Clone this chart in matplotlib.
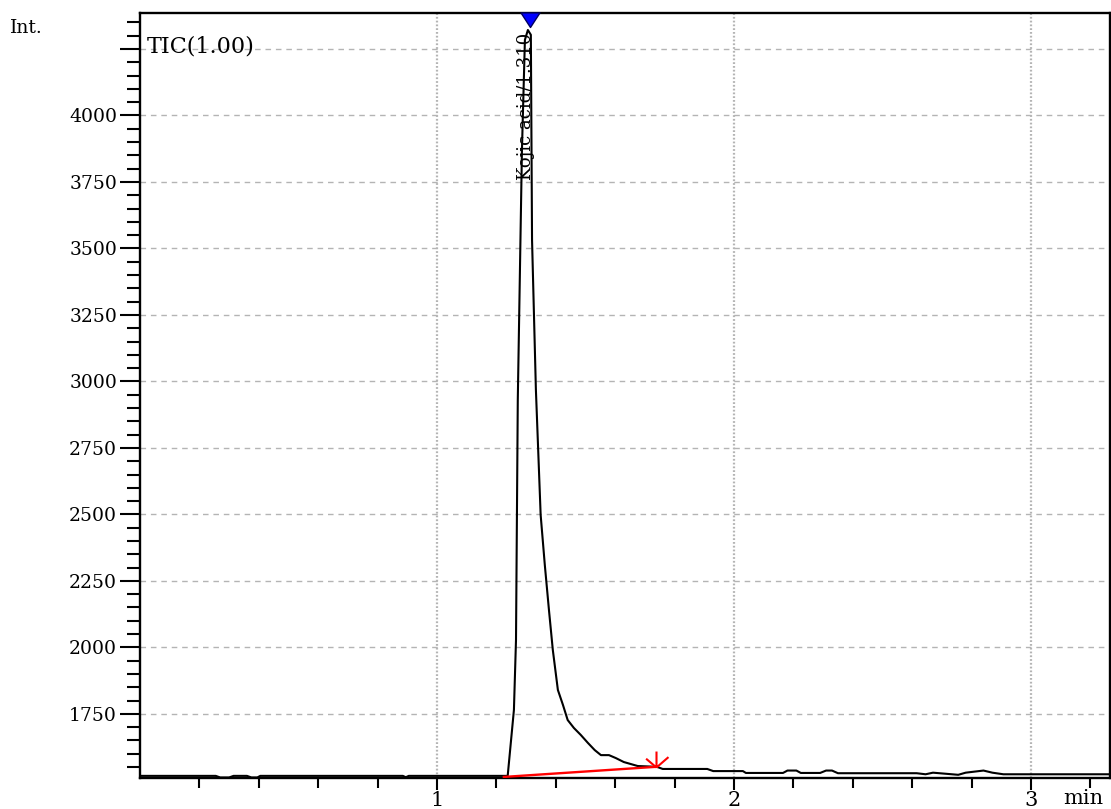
import matplotlib
matplotlib.use("Agg")
import matplotlib.pyplot as plt
from matplotlib.path import Path
from matplotlib.ticker import FixedLocator, MultipleLocator

# ---- data ----
times = [0.000, 0.255, 0.270, 0.300, 0.315, 0.360, 0.375, 0.395, 0.405,
         0.885, 0.895, 0.905, 1.225, 1.238, 1.259, 1.266, 1.272, 1.286,
         1.296, 1.306, 1.316, 1.320, 1.333, 1.349, 1.363, 1.377, 1.390,
         1.407, 1.424, 1.440, 1.461, 1.484, 1.508, 1.531, 1.552, 1.579,
         1.602, 1.629, 1.676, 1.720, 1.743, 1.760, 1.910, 1.930, 2.030,
         2.040, 2.165, 2.180, 2.210, 2.225, 2.290, 2.310, 2.330, 2.350,
         2.615, 2.645, 2.670, 2.755, 2.780, 2.840, 2.870, 2.907, 3.266]
intensity = [1517, 1517, 1511, 1511, 1517, 1517, 1511, 1511, 1517,
             1517, 1512, 1517, 1517, 1517, 1765, 2028, 2930, 3870,
             4284, 4321, 4303, 3532, 2968, 2498, 2310, 2140, 1990,
             1840, 1784, 1727, 1697, 1671, 1641, 1614, 1595, 1595,
             1584, 1569, 1554, 1552, 1550, 1543, 1543, 1535, 1535,
             1528, 1528, 1537, 1537, 1528, 1528, 1537, 1537, 1527,
             1527, 1523, 1529, 1521, 1529, 1537, 1529, 1523, 1523]

peak_time = 1.313
peak_int = 4321
peak_label = "Kojic acid/1.310"
baseline_t = [1.225, 1.737]
baseline_i = [1513, 1551]

y_major = [1750, 2000, 2250, 2500, 2750, 3000, 3250, 3500, 3750, 4000, 4250]
y_labels = ["1750", "2000", "2250", "2500", "2750", "3000", "3250", "3500",
            "3750", "4000", ""]
x_major = [1, 2, 3]
x_labels = ["1", "2", "3"]

SERIF = "DejaVu Serif"

fig = plt.figure(figsize=(11.11, 8.09), dpi=100)
ax = fig.add_axes([140 / 1111, 1 - 778 / 809, 970 / 1111, 765 / 809])

ax.set_xlim(0.0, 3.266)
ax.set_ylim(1509, 4385)

# grid
for yv in y_major:
    ax.axhline(yv, color="#b4b4b4", lw=1.0, ls=(0, (4, 3.5)), zorder=0)
for xv in x_major:
    ax.axvline(xv, color="#b4b4b4", lw=1.6, ls=(0, (0.8, 0.9)), zorder=0)

# chromatogram
ax.plot(times, intensity, color="black", lw=1.5, zorder=3,
        solid_joinstyle="round")

# integration baseline
ax.plot(baseline_t, baseline_i, color="red", lw=1.7, zorder=4)
arrow = Path([(0, 0), (0, 1), (0, 0), (-0.65, 0.55), (0, 0), (0.75, 0.65)],
             [Path.MOVETO, Path.LINETO, Path.MOVETO, Path.LINETO,
              Path.MOVETO, Path.LINETO])
ax.plot([baseline_t[1]], [baseline_i[1]], marker=arrow, markersize=23,
        markerfacecolor="none", markeredgecolor="red", markeredgewidth=1.5,
        linestyle="none", zorder=5)

# peak marker
tri = Path([(-0.65, 1.0), (0.65, 1.0), (0.0, 0.0), (-0.65, 1.0)],
           [Path.MOVETO, Path.LINETO, Path.LINETO, Path.CLOSEPOLY])
ax.plot([peak_time], [peak_int + 10], marker=tri, markersize=21,
        markerfacecolor="#0000ff", markeredgecolor="#000060",
        markeredgewidth=1.0, linestyle="none", zorder=6, clip_on=False)

ax.text(1.300, 3757, peak_label, rotation=90, ha="center", va="bottom",
        fontsize=13, family=SERIF, color="black", zorder=5)

# ticks
ax.yaxis.set_major_locator(FixedLocator(y_major))
ax.set_yticklabels(y_labels)
ax.yaxis.set_minor_locator(MultipleLocator(50))
ax.xaxis.set_major_locator(FixedLocator(x_major))
ax.set_xticklabels(x_labels)
ax.xaxis.set_minor_locator(FixedLocator([0.2, 0.4, 0.6, 0.8, 1.2, 1.4, 1.6,
                                         1.8, 2.2, 2.4, 2.6, 2.8, 3.2]))

ax.tick_params(axis="y", which="major", direction="out", length=14.5,
               width=1.5, pad=2, labelsize=13.5)
ax.tick_params(axis="y", which="minor", direction="out", length=9.5,
               width=1.5)
ax.tick_params(axis="x", which="major", direction="out", length=8.5,
               width=1.5, pad=0.5, labelsize=15)
ax.tick_params(axis="x", which="minor", direction="out", length=7,
               width=1.5)
for lab in ax.get_xticklabels() + ax.get_yticklabels():
    lab.set_family(SERIF)

for s in ax.spines.values():
    s.set_linewidth(1.7)
    s.set_color("black")

# annotations
fig.text(10 / 1111, 1 - 28 / 809, "Int.", ha="left", va="center",
         fontsize=13.5, family=SERIF)
ax.text(7 / 970, (778 - 47) / 765, "TIC(1.00)", transform=ax.transAxes,
        ha="left", va="center", fontsize=16, family=SERIF, zorder=5)
fig.text(1063 / 1111, 1 - 798 / 809, "min", ha="left", va="center",
         fontsize=15, family=SERIF)

fig.savefig("out.png", dpi=100)
